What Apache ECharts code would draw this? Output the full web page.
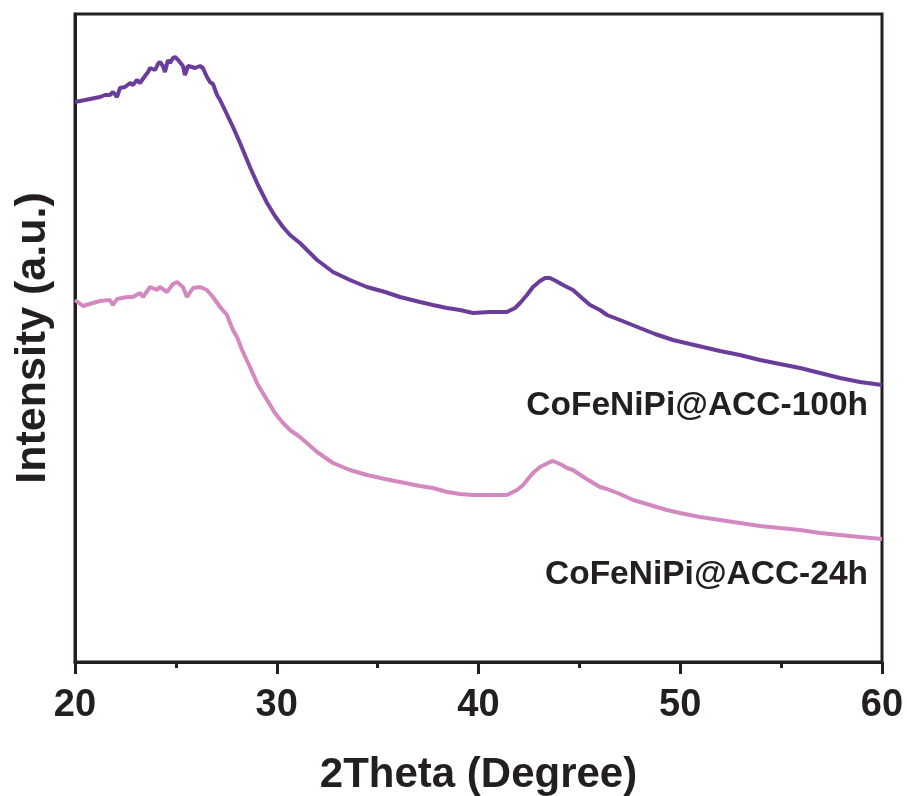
<!DOCTYPE html>
<html>
<head>
<meta charset="utf-8">
<script src="https://cdn.jsdelivr.net/npm/echarts@6/dist/echarts.min.js"></script>
<style>
html,body{margin:0;padding:0;background:#fff;}
#chart{width:907px;height:796px;}
</style>
</head>
<body>
<div id="chart"></div>
<script>
// 2Theta values (degree) and intensities (a.u.)
var theta100h = [20.00,20.50,20.99,21.24,21.49,21.73,21.88,22.08,22.23,22.48,22.73,22.87,23.07,23.22,23.47,23.62,23.72,23.97,24.11,24.21,24.36,24.46,24.61,24.71,24.86,24.96,25.11,25.20,25.35,25.45,25.60,25.80,25.95,26.20,26.34,26.54,26.69,26.84,27.04,27.19,27.43,27.83,28.18,28.67,29.07,29.52,29.91,30.31,30.66,31.15,32.00,32.79,33.63,34.47,35.37,36.11,37.10,37.74,38.44,39.08,39.73,40.57,41.41,41.81,42.06,42.40,42.70,43.05,43.30,43.54,43.84,44.19,44.68,45.13,45.53,46.02,46.37,47.01,48.00,48.75,49.64,50.48,51.33,51.97,52.96,53.95,54.94,55.94,56.93,57.92,58.91,60.00];
var int100h = [560,562,564,565,567,567,570,565,574,575,579,577,582,579,586,590,594,592,598,600,596,590,602,599,604,605,602,600,596,587,596,595,594,596,594,585,580,578,567,562,552,535,519,495,477,459,446,435,427,419,402,390,382,375,370,365,360,357,354,352,349,350,350,354,359,367,375,381,384,384,381,377,372,364,357,352,347,342,334,328,322,318,314,311,307,302,298,294,289,284,280,277];

var theta24h = [20.00,20.40,20.89,21.24,21.73,21.88,22.08,22.58,22.87,23.22,23.37,23.72,24.06,24.21,24.56,24.86,25.06,25.35,25.55,25.85,26.20,26.54,26.84,27.19,27.53,27.83,28.03,28.28,28.67,29.07,29.52,29.91,30.31,30.66,31.15,32.00,32.79,33.63,34.47,35.37,36.11,37.10,37.74,38.44,39.08,39.73,40.57,41.41,41.91,42.21,42.70,43.05,43.54,43.69,44.04,44.39,44.68,45.28,46.02,46.37,47.01,47.66,48.50,49.34,49.99,50.98,51.97,52.96,53.95,54.94,55.94,56.93,57.92,58.91,60.00];
var int24h = [362,356,359,361,362,357,363,365,365,369,365,375,372,375,370,378,380,375,365,374,375,372,365,355,347,332,325,312,295,277,262,249,239,232,225,210,199,192,187,183,180,176,174,170,168,167,167,167,172,177,189,195,200,201,198,194,192,184,175,173,168,162,157,152,149,145,142,139,136,134,132,129,127,125,123];

var xTicks = [20,30,40,50,60];
var seriesNames = ['CoFeNiPi@ACC-100h','CoFeNiPi@ACC-24h'];
var colors = ['#6a3d9b','#d389bf'];

function pairs(xs, ys){ return xs.map(function(x,i){ return [x, ys[i]]; }); }

var FONT = "'Liberation Sans', Arial, Helvetica, sans-serif";
var INK = '#231f20';

var chart = echarts.init(document.getElementById('chart'), null, {renderer:'canvas'});
chart.setOption({
  backgroundColor:'#ffffff',
  animation:false,
  grid:{left:75,right:25,top:14,bottom:134,containLabel:false,outerBoundsMode:'none',show:true,borderColor:INK,borderWidth:3,backgroundColor:'transparent'},
  xAxis:{
    type:'value', min:xTicks[0], max:xTicks[xTicks.length-1], interval:10,
    name:'2Theta (Degree)', nameLocation:'middle', nameGap:92,
    nameTextStyle:{fontFamily:FONT,fontWeight:'bold',fontSize:42,color:INK},
    axisLine:{show:true,lineStyle:{color:INK,width:3}},
    axisTick:{show:true,inside:false,length:12,lineStyle:{color:INK,width:3}},
    minorTick:{show:true,splitNumber:2,length:6,lineStyle:{color:INK,width:3}},
    splitLine:{show:false},
    axisLabel:{margin:25,fontFamily:FONT,fontWeight:'bold',fontSize:38,color:INK}
  },
  yAxis:{
    type:'value', min:0, max:648,
    name:'Intensity (a.u.)', nameLocation:'middle', nameGap:20, nameRotate:90,
    nameTextStyle:{fontFamily:FONT,fontWeight:'bold',fontSize:43,color:INK},
    axisLine:{show:true,lineStyle:{color:INK,width:3}},
    axisTick:{show:false}, axisLabel:{show:false}, splitLine:{show:false}
  },
  series:[
    {name:seriesNames[0],type:'line',data:pairs(theta100h,int100h),showSymbol:false,
     lineStyle:{color:colors[0],width:4},itemStyle:{color:colors[0]}},
    {name:seriesNames[1],type:'line',data:pairs(theta24h,int24h),showSymbol:false,
     lineStyle:{color:colors[1],width:4},itemStyle:{color:colors[1]}}
  ],
  graphic:[
    {type:'text',right:39,top:389,style:{text:seriesNames[0],font:'bold 33.5px '+FONT,fill:INK}},
    {type:'text',right:39,top:558,style:{text:seriesNames[1],font:'bold 33.5px '+FONT,fill:INK}}
  ]
});
</script>
</body>
</html>
